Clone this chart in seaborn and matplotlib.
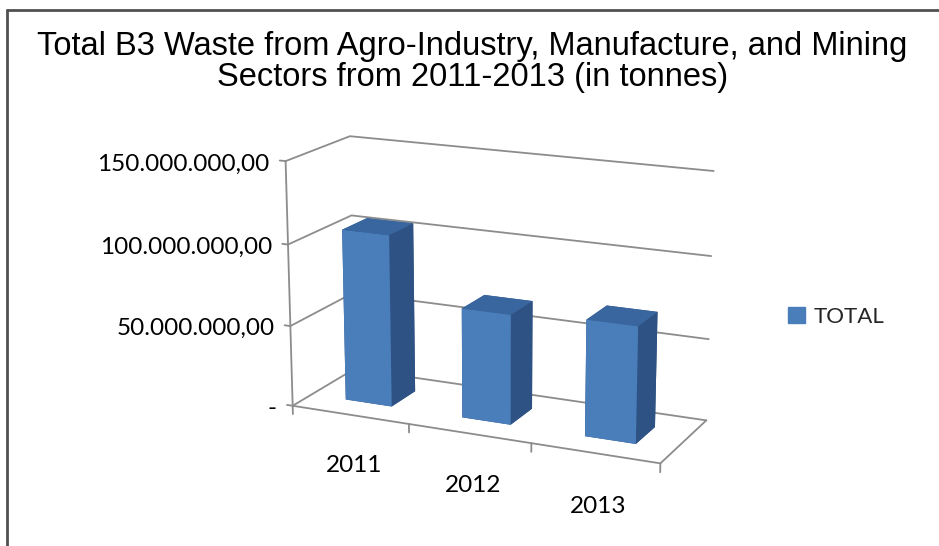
import numpy as np
import seaborn as sns
import matplotlib
matplotlib.use("Agg")
import matplotlib.pyplot as plt
from matplotlib.lines import Line2D
from matplotlib.patches import Patch

# data (tonnes)
years = ['2011', '2012', '2013']
totals = [106000000, 67000000, 70000000]
z_ticks = [0, 50000000, 100000000, 150000000]
z_tick_labels = ['-', '50.000.000,00', '100.000.000,00', '150.000.000,00']
series_name = 'TOTAL'

sns.set_theme(style='white')
plt.rcParams['font.family'] = ['Liberation Sans', 'DejaVu Sans']

front_col = '#4a7ebb'
top_col = '#3a66a0'
side_col = '#2e5283'
grid_col = '#8c8c8c'
label_font = ['Lato', 'DejaVu Sans']

fig = plt.figure(figsize=(9.39, 5.46), dpi=100)
# 3d axes are drawn in a square, so give it the full height
ax = fig.add_axes([(490 - 273) / 939, -26 / 546, 546 / 939, 1], projection='3d',
                  computed_zorder=False)
ax.set_proj_type('persp', focal_length=0.7)
ax.view_init(elev=16, azim=-65.5)
n = len(years)
zmax = z_ticks[-1]
ax.set_xlim(0, n)
ax.set_ylim(0, 1)
ax.set_zlim(0, zmax)
ax.set_box_aspect((3, 1.0, 1.92), zoom=0.88)
ax.set_axis_off()

# walls: gridlines on left and back wall
for z, lab in zip(z_ticks, z_tick_labels):
    ax.plot([0, 0, n], [0, 1, 1], [z, z, z], color=grid_col, lw=1.3, zorder=1)
    ax.plot([0, -0.05], [0, 0], [z, z], color=grid_col, lw=1.3, zorder=1)
    ax.text(-0.14, 0, z - zmax * 0.02, lab, ha='right', va='center',
            fontsize=17.5, family=label_font, color='black')
# vertical axis and floor outline
ax.plot([0, 0], [0, 0], [0, zmax], color=grid_col, lw=1.3, zorder=1)
ax.plot([0, n, n], [0, 0, 1], [0, 0, 0], color=grid_col, lw=1.3, zorder=1)
for i in range(n + 1):
    ax.plot([i, i], [0, 0], [0, -zmax * 0.035], color=grid_col, lw=1.3, zorder=1)

# bars, gap width/depth 150%
w = 0.4
xs = np.arange(n) + (1 - w) / 2
face_cols = [side_col, top_col, front_col, side_col, side_col, side_col] * n
ax.bar3d(xs, np.full(n, 0.3), np.zeros(n), w, 0.4, totals, color=face_cols,
         shade=False, zorder=2, edgecolor=None, linewidth=0)

for i, yr in enumerate(years):
    ax.text(i + 0.55, -0.05, -zmax * 0.2, yr, ha='center', va='center',
            fontsize=17.5, family=label_font, color='black')

fig.text(0.503, 1 - 62 / 546,
         'Total B3 Waste from Agro-Industry, Manufacture, and Mining\nSectors from 2011-2013 (in tonnes)',
         ha='center', va='center', fontsize=23.5, linespacing=1.02, color='black')

fig.legend(handles=[Patch(color=front_col)], labels=[series_name], loc='center left',
           bbox_to_anchor=(768 / 939, 1 - 317 / 546), frameon=False,
           handlelength=0.75, handleheight=0.75, handletextpad=0.4,
           prop={'family': label_font, 'size': 16})

# chart border (top and left)
fig.add_artist(Line2D([7 / 939, 1], [1 - 10 / 546] * 2, transform=fig.transFigure,
                      color='#505050', lw=2))
fig.add_artist(Line2D([7 / 939] * 2, [0, 1 - 10 / 546], transform=fig.transFigure,
                      color='#505050', lw=2))

fig.savefig('out.png', dpi=100)
